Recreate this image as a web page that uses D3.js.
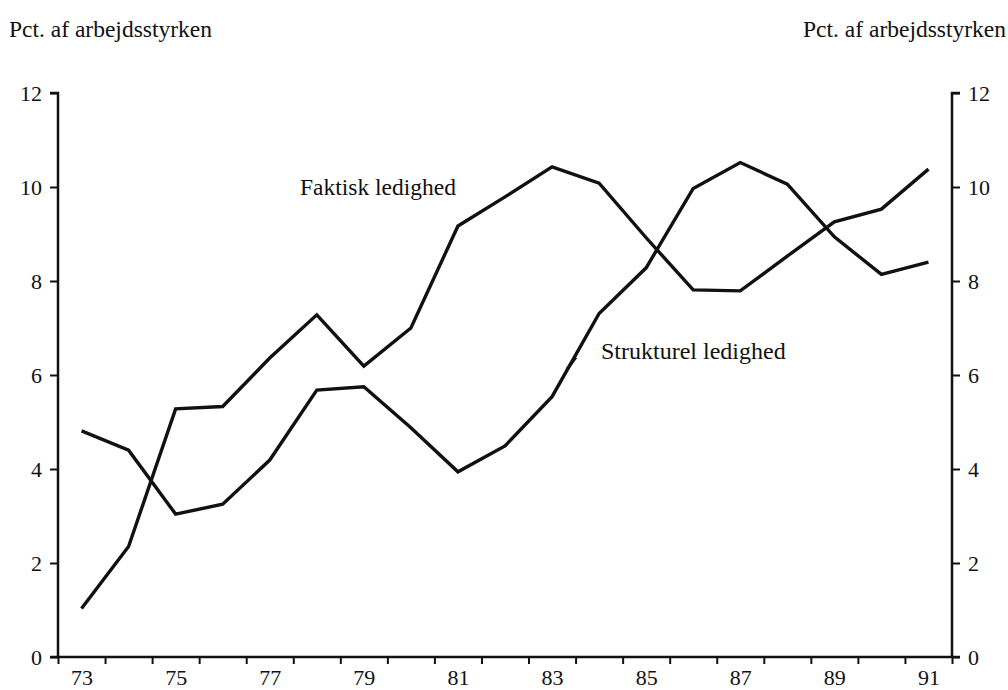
<!DOCTYPE html>
<html>
<head>
<meta charset="utf-8">
<script src="https://cdn.jsdelivr.net/npm/d3@7"></script>
<style>
  body { margin: 0; background: #fff; }
  svg text { font-family: "Liberation Serif", "DejaVu Serif", serif; fill: #111; }
  .axis path, .axis line { stroke: #111; }
</style>
</head>
<body>
<svg id="chart" width="1008" height="690"></svg>
<script>
const years = [73,74,75,76,77,78,79,80,81,82,83,84,85,86,87,88,89,90,91];
const yearLabels = [73,75,77,79,81,83,85,87,89,91];
const faktisk = [1.03,2.35,5.28,5.33,6.36,7.28,6.19,7.0,9.17,9.79,10.43,10.08,8.92,7.81,7.79,8.53,9.26,9.53,10.38];
const strukturel = [4.81,4.4,3.04,3.25,4.19,5.68,5.75,4.88,3.94,4.49,5.54,7.31,8.28,9.97,10.52,10.06,8.94,8.14,8.4];
const yTicks = [0,2,4,6,8,10,12];
const unitLabel = "Pct. af arbejdsstyrken";

const svg = d3.select("#chart");
const plotLeft = 58, plotRight = 952, plotTop = 93, plotBottom = 657;

const x = d3.scaleLinear().domain([72.5, 91.5]).range([plotLeft, plotRight]);
const y = d3.scaleLinear().domain([0, 12]).range([plotBottom, plotTop]);

// y axes
const yLeft = d3.axisLeft(y).tickValues(yTicks).tickSize(8).tickPadding(8);
const yRight = d3.axisRight(y).tickValues(yTicks).tickSize(8).tickPadding(8);

svg.append("g").attr("class", "axis")
    .attr("transform", `translate(${plotLeft},0)`)
    .call(yLeft)
    .call(g => g.select(".domain").attr("d", `M-8,${plotTop}H0V${plotBottom}`).attr("stroke-width", 2.5))
    .call(g => g.selectAll("line").attr("stroke-width", 2))
    .selectAll("text").style("font-size", "22px");

svg.append("g").attr("class", "axis")
    .attr("transform", `translate(${plotRight},0)`)
    .call(yRight)
    .call(g => g.select(".domain").attr("d", `M8,${plotTop}H0V${plotBottom}`).attr("stroke-width", 2.5))
    .call(g => g.selectAll("line").attr("stroke-width", 2))
    .selectAll("text").style("font-size", "22px");

// x axis: ticks between years, labels on odd years
const bounds = d3.range(72.5, 91.6, 1);
svg.append("g").attr("class", "axis")
    .attr("transform", `translate(0,${plotBottom})`)
    .call(d3.axisBottom(x).tickValues(bounds).tickSize(7).tickFormat(""))
    .call(g => g.select(".domain").attr("d", `M${plotLeft - 8},0H${plotRight + 8}`).attr("stroke-width", 2.5))
    .call(g => g.selectAll("line").attr("stroke-width", 2));

svg.append("g").attr("class", "axis")
    .attr("transform", `translate(0,${plotBottom})`)
    .call(d3.axisBottom(x).tickValues(yearLabels).tickSize(0).tickPadding(12))
    .call(g => g.select(".domain").remove())
    .selectAll("text").style("font-size", "22px");

// lines
const line = d3.line()
    .x((d, i) => x(years[i]))
    .y(d => y(d));

[faktisk, strukturel].forEach(s => {
    svg.append("path")
        .datum(s)
        .attr("fill", "none")
        .attr("stroke", "#111")
        .attr("stroke-width", 3.4)
        .attr("stroke-linejoin", "miter")
        .attr("d", line);
});

// small mark on strukturel line, near its label
const mx = x(83.4), my = y(strukturel[10] + (strukturel[11] - strukturel[10]) * 0.4);
svg.append("line")
    .attr("x1", mx - 4).attr("y1", my + 6)
    .attr("x2", mx + 5).attr("y2", my - 6)
    .attr("stroke", "#111").attr("stroke-width", 3);

// unit labels
svg.append("text").attr("x", 9).attr("y", 37).style("font-size", "23.5px").text(unitLabel);
svg.append("text").attr("x", 1006).attr("y", 37).attr("text-anchor", "end").style("font-size", "23.5px").text(unitLabel);

// series labels
svg.append("text").attr("x", 300).attr("y", 195).style("font-size", "23.5px").text("Faktisk ledighed");
svg.append("text").attr("x", 601).attr("y", 359).style("font-size", "24px").text("Strukturel ledighed");
</script>
</body>
</html>
